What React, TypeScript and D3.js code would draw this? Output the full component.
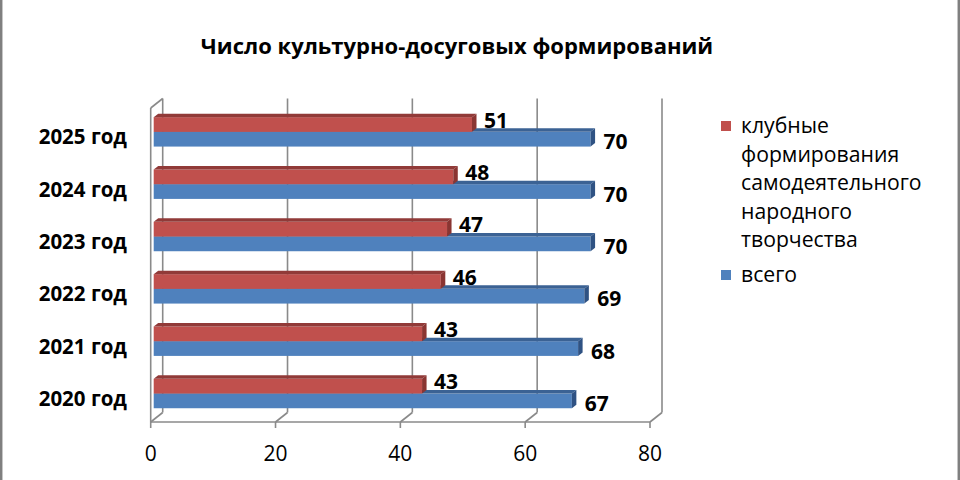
import * as d3 from "d3";

// chart data
const categories = ["2020 год", "2021 год", "2022 год", "2023 год", "2024 год", "2025 год"];
const clubValues = [43, 43, 46, 47, 48, 51];
const totalValues = [67, 68, 69, 70, 70, 70];
const xTicks = [0, 20, 40, 60, 80];
const seriesKeys = ["club", "total"];
const legendClubLines = ["клубные", "формирования", "самодеятельного", "народного", "творчества"];
const legendTotal = "всего";
const title = "Число культурно-досуговых формирований";

const W = 960;
const H = 480;
const FONT = "'Open Sans', 'Noto Sans', sans-serif";

// front plane of the 3D box
const left = 150.7;
const right = 650;
const top = 108;
const bottom = 422;
// depth of the box (back wall offset)
const DX = 12;
const DY = -9.5;
// bars sit a bit inside the box, and have their own depth
const BOX = 3;
const BOY = -2.3;
const BDX = 4.5;
const BDY = -3.5;

const colors = {
  club: { front: "#C0504D", top: "#913A38", side: "#8A3532" },
  total: { front: "#4F81BD", top: "#3B6294", side: "#2F5283" },
};

const grid = "#8a8a8a";

export default function App() {
  const x = d3.scaleLinear().domain([0, 80]).range([left, right]);
  const y = d3
    .scaleBand<string>()
    .domain(categories)
    .range([bottom, top])
    .paddingInner(0.438)
    .paddingOuter(0.219);
  const ys = d3.scaleBand<string>().domain(seriesKeys).range([0, y.bandwidth()]);

  const rows = categories.map((c, i) => ({ cat: c, club: clubValues[i], total: totalValues[i] }));

  const bar = (cat: string, key: "club" | "total", v: number) => {
    const x0 = x(0) + BOX;
    const x1 = x(v) + BOX;
    const y0 = (y(cat) ?? 0) + (ys(key) ?? 0) + BOY;
    const y1 = y0 + ys.bandwidth();
    const c = colors[key];
    return (
      <g key={cat + key}>
        <rect x={x0} y={y0} width={x1 - x0} height={y1 - y0} fill={c.front} />
        <polygon
          points={`${x0},${y0} ${x0 + BDX},${y0 + BDY} ${x1 + BDX},${y0 + BDY} ${x1},${y0}`}
          fill={c.top}
        />
        <polygon
          points={`${x1},${y0} ${x1 + BDX},${y0 + BDY} ${x1 + BDX},${y1 + BDY} ${x1},${y1}`}
          fill={c.side}
        />
      </g>
    );
  };

  return (
    <svg
      width={W}
      height={H}
      style={{ position: "absolute", left: 0, top: 0, background: "#fff" }}
      fontFamily={FONT}
    >
      <rect width={W} height={H} fill="#fff" />
      {/* outer border (only sides visible) */}
      <line x1={1.2} y1={0} x2={1.2} y2={H} stroke="#808080" strokeWidth={2.5} />
      <line x1={958.8} y1={0} x2={958.8} y2={H} stroke="#808080" strokeWidth={2.5} />

      <text x={457} y={54} textAnchor="middle" fontSize={22} fontWeight="bold" fill="#000">
        {title}
      </text>

      {/* back wall gridlines */}
      {xTicks.map((t) => (
        <line
          key={"g" + t}
          x1={x(t) + DX}
          x2={x(t) + DX}
          y1={top + DY}
          y2={bottom + DY}
          stroke={grid}
          strokeWidth={1.6}
        />
      ))}
      {/* left wall */}
      <line x1={left} x2={left} y1={top} y2={bottom} stroke={grid} strokeWidth={1.6} />
      <line x1={left} x2={left + DX} y1={top} y2={top + DY} stroke={grid} strokeWidth={1.6} />
      {/* floor */}
      <line x1={left} x2={right} y1={bottom} y2={bottom} stroke={grid} strokeWidth={1.6} />
      {xTicks.map((t) => (
        <g key={"f" + t}>
          <line
            x1={x(t)}
            x2={x(t) + DX}
            y1={bottom}
            y2={bottom + DY}
            stroke={grid}
            strokeWidth={1.6}
          />
          <line x1={x(t)} x2={x(t)} y1={bottom} y2={bottom + 6} stroke={grid} strokeWidth={1.6} />
          <text x={x(t)} y={461} textAnchor="middle" fontSize={21} fill="#000">
            {t}
          </text>
        </g>
      ))}

      {/* bars: blue first, red above it */}
      {rows.map((r) => (
        <g key={r.cat}>
          {bar(r.cat, "total", r.total)}
          {bar(r.cat, "club", r.club)}
        </g>
      ))}

      {/* value labels */}
      {rows.map((r) => {
        const yc = (y(r.cat) ?? 0) + BOY;
        const bw = ys.bandwidth();
        return (
          <g key={"l" + r.cat} fontSize={21} fontWeight="bold" fill="#000">
            <text x={x(r.club) + 15} y={yc + (ys("club") ?? 0) + bw / 2 + 3}>
              {r.club}
            </text>
            <text x={x(r.total) + 16} y={yc + (ys("total") ?? 0) + bw / 2 + 10}>
              {r.total}
            </text>
          </g>
        );
      })}

      {/* category labels */}
      {categories.map((c) => (
        <text
          key={"c" + c}
          x={127}
          y={(y(c) ?? 0) + y.bandwidth() / 2 + 10}
          textAnchor="end"
          fontSize={20.5}
          fontWeight="bold"
          fill="#000"
        >
          {c}
        </text>
      ))}

      {/* legend */}
      <rect x={721} y={121} width={10} height={10} fill={colors.club.front} />
      {legendClubLines.map((s, i) => (
        <text key={s} x={741} y={133 + i * 28.6} fontSize={21.2} fill="#000">
          {s}
        </text>
      ))}
      <rect x={721} y={270} width={10} height={10} fill={colors.total.front} />
      <text x={741} y={281.5} fontSize={21.2} fill="#000">
        {legendTotal}
      </text>
    </svg>
  );
}
